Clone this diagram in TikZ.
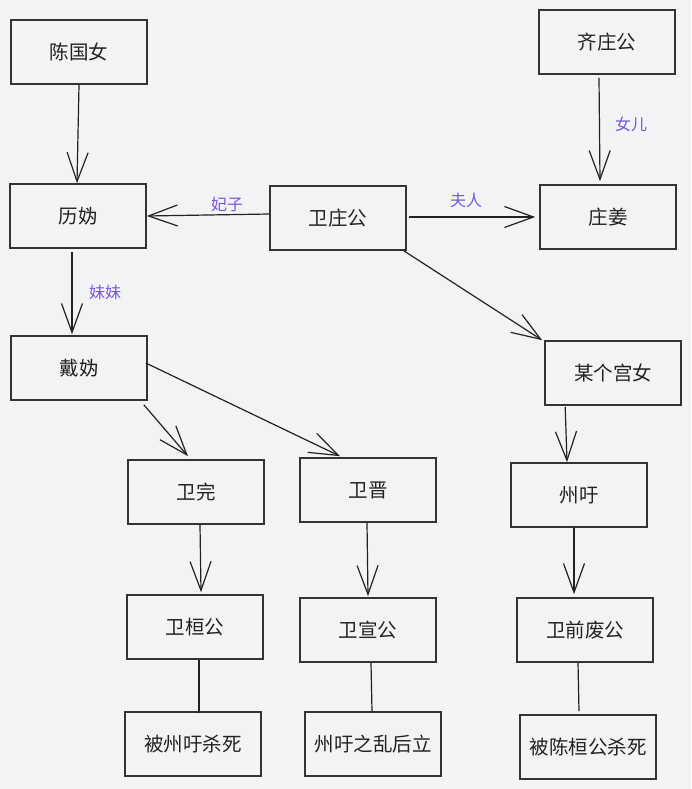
\documentclass[tikz,border=0pt]{standalone}
\usepackage{fontspec}
\setmainfont{Noto Sans CJK SC}
\usetikzlibrary{arrows.meta,calc}
\definecolor{bgc}{HTML}{F2F3F5}
\definecolor{boxline}{HTML}{333333}
\definecolor{txt}{HTML}{222222}
\definecolor{lbl}{HTML}{7A55E0}
\tikzset{
  box/.style={draw=boxline, line width=1.6pt, fill=bgc, minimum width=136pt, minimum height=64pt, inner sep=0pt, text=txt, font=\fontsize{19.5}{21}\selectfont},
  conn/.style={draw=txt, line width=1.2pt, -{Straight Barb[length=29pt, width=21pt, line width=1.2pt]}},
  plain/.style={draw=txt, line width=1.2pt},
  lab/.style={text=lbl, font=\fontsize{16}{18}\selectfont, inner sep=0pt}
}
\begin{document}
\begin{tikzpicture}[x=1pt,y=-1pt]
\fill[bgc] (0,0) rectangle (691,789);
\useasboundingbox (0,0) rectangle (691,789);
% boxes (centers)
\node[box] (cgn)  at (79,52)    {陈国女};
\node[box] (lg)   at (78,216)   {历妫};
\node[box] (wzg)  at (338,218)  {卫庄公};
\node[box] (qzg)  at (607,42)   {齐庄公};
\node[box] (zj)   at (608,217)  {庄姜};
\node[box] (dg)   at (79,368)   {戴妫};
\node[box] (ww)   at (196,492)  {卫完};
\node[box] (wj)   at (368,490)  {卫晋};
\node[box] (gn)   at (613,373)  {某个宫女};
\node[box] (zx)   at (579,495)  {州吁};
\node[box] (whg)  at (195,627)  {卫桓公};
\node[box] (wxg)  at (368,630)  {卫宣公};
\node[box] (wqfg) at (585,630)  {卫前废公};
\node[box] (bzx)  at (193,744)  {被州吁杀死};
\node[box] (zxzl) at (373,744)  {州吁之乱后立};
\node[box] (bch)  at (588,747)  {被陈桓公杀死};
% arrows
\draw[conn] (cgn.south) -- ($(lg.north)+(-1,0)$);
\draw[conn] ($(wzg.west)+(0,-4)$) -- ($(lg.east)+(0,0)$);
\node[lab] (l1) at (227,204) {妃子};
\draw[conn] ($(wzg.east)+(2,-1)$) -- ($(zj.west)+(-4,0)$);
\node[lab] (l2) at (466,200) {夫人};
\draw[conn] ($(qzg.south)+(-8,3)$) -- ($(zj.north)+(-8,-3)$);
\node[lab] (l3) at (631,124) {女儿};
\draw[conn] ($(lg.south)+(-6,3)$) -- ($(dg.north)+(-7,-1)$);
\node[lab] (l4) at (105,292) {妹妹};
\draw[conn] ($(wzg.south east)+(-3,0)$) -- ($(gn.north west)+(-2,0)$);
\draw[conn] ($(dg.south east)+(-4,4)$) -- ($(ww.north)+(-8,-3)$);
\draw[conn] ($(dg.east)+(-2,-5)$) -- ($(wj.north)+(-28,-1)$);
\draw[conn] ($(gn.south west)+(21,1)$) -- ($(zx.north)+(-12,0)$);
\draw[conn] ($(ww.south)+(4,0)$) -- ($(whg.north)+(6,-2)$);
\draw[conn] ($(wj.south)+(-1,0)$) -- ($(wxg.north)+(0,-1)$);
\draw[conn] ($(zx.south)+(-5,0)$) -- ($(wqfg.north)+(-11,-3)$);
% plain lines
\draw[plain] ($(whg.south)+(4,0)$) -- ($(bzx.north)+(6,2)$);
\draw[plain] ($(wxg.south)+(3,0)$) -- ($(zxzl.north)+(-1,0)$);
\draw[plain] ($(wqfg.south)+(-7,0)$) -- ($(bch.north)+(-9,-3)$);
\end{tikzpicture}
\end{document}
